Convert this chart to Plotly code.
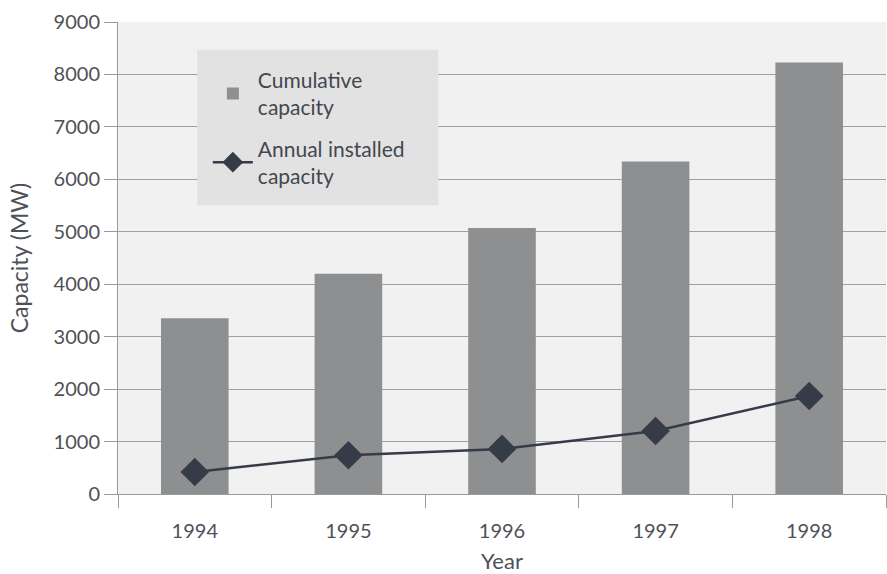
import plotly.graph_objects as go

years = ["1994", "1995", "1996", "1997", "1998"]
cumulative = [3350, 4200, 5070, 6340, 8230]
annual = [420, 740, 860, 1200, 1870]

FONT = "Lato, 'Open Sans', sans-serif"
TXT = "#4f5158"

fig = go.Figure()
fig.add_trace(go.Bar(x=years, y=cumulative, name="Cumulative<br>capacity",
                     legendgroup="cum",
                     marker=dict(color="#8e8f91", line=dict(width=0)),
                     width=0.44))
fig.add_trace(go.Scatter(x=years, y=annual, name="Annual installed<br>capacity",
                         legendgroup="ann",
                         mode="lines+markers",
                         line=dict(color="#363b48", width=2.5),
                         marker=dict(symbol="diamond", size=22, color="#363b48")))

# legend panel drawn as a box behind the (transparent) legend
fig.add_shape(type="rect", xref="paper", yref="paper",
              x0=0.103, x1=0.417, y0=0.612, y1=0.941,
              fillcolor="#e2e2e2", line=dict(width=0), layer="above")

fig.update_layout(
    width=887, height=574,
    margin=dict(l=118, r=1, t=22, b=80),
    paper_bgcolor="white",
    plot_bgcolor="#f1f1f1",
    font=dict(family=FONT, size=20, color=TXT),
    showlegend=True,
    legend=dict(x=0.117, y=0.92, xanchor="left", yanchor="top",
                bgcolor="rgba(0,0,0,0)", borderwidth=0,
                font=dict(size=21, color="#44474f"),
                tracegroupgap=11, itemwidth=40,
                traceorder="grouped"),
)
fig.update_xaxes(
    type="category", tickson="boundaries", ticks="outside", ticklen=13,
    tickcolor="#999999", showline=True, linecolor="#999999",
    showgrid=False, ticklabelstandoff=19, automargin=False,
    title=dict(text="Year", font=dict(size=22, color=TXT), standoff=20),
)
fig.update_yaxes(
    range=[0, 9000], dtick=1000, ticks="outside", ticklen=13,
    tickcolor="#999999", showgrid=True, gridcolor="#a0a0a0", gridwidth=1,
    showline=True, linecolor="#999999", zeroline=False,
    title=dict(text="Capacity (MW)", font=dict(size=23, color=TXT), standoff=18),
)

fig.write_html("out.html", config={"displayModeBar": False},
               post_script="document.body.style.margin='0';")
